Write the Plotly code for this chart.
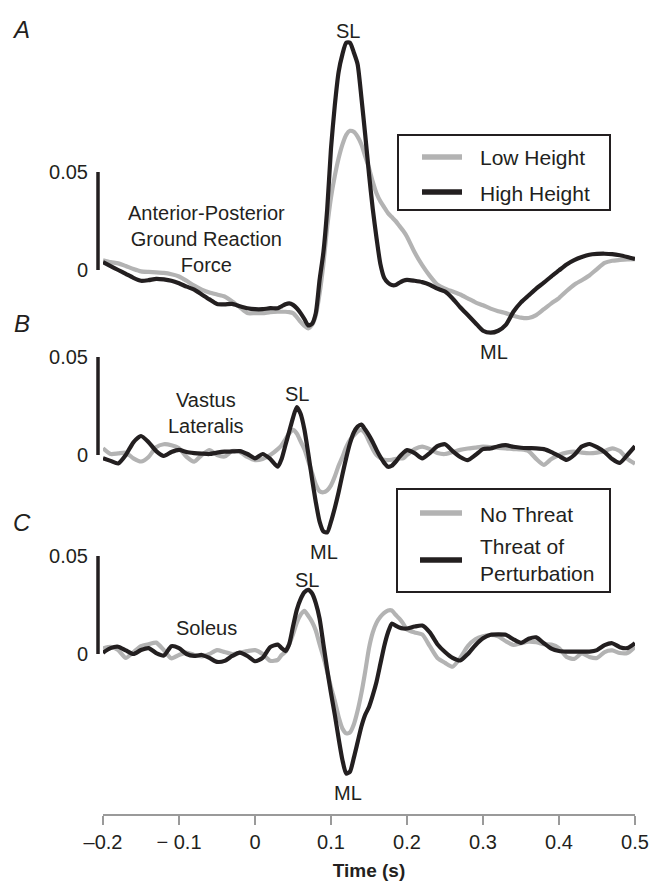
import plotly.graph_objects as go

# ---------------- data ----------------
time_s = [
    -0.20, -0.19, -0.18, -0.17, -0.16, -0.15, -0.14, -0.13, -0.12, -0.11, -0.10, -0.09,
    -0.08, -0.07, -0.06, -0.05, -0.04, -0.03, -0.02, -0.01, 0.00, 0.01, 0.02, 0.03,
    0.035, 0.04, 0.045, 0.05, 0.055, 0.06, 0.065, 0.07, 0.075, 0.08,
    0.085, 0.09, 0.095, 0.10, 0.105, 0.11, 0.115, 0.12, 0.125, 0.13,
    0.135, 0.14, 0.145, 0.15, 0.155, 0.16, 0.165, 0.17, 0.175, 0.18,
    0.185, 0.19, 0.195, 0.20,
    0.21, 0.22, 0.23, 0.24, 0.25, 0.26, 0.27, 0.28, 0.29, 0.30,
    0.31, 0.32, 0.33, 0.34, 0.35, 0.36, 0.37, 0.38, 0.39, 0.40,
    0.41, 0.42, 0.43, 0.44, 0.45, 0.46, 0.47, 0.48, 0.49, 0.50,
]

# Panel A: anterior-posterior ground reaction force
ap_low_height = [
    0.005, 0.004, 0.0034, 0.002, 0.0005, -0.0007, -0.001, -0.0012, -0.0015, -0.0022, -0.0033, -0.0055,
    -0.008, -0.010, -0.0115, -0.0125, -0.0135, -0.016, -0.019, -0.022, -0.022, -0.022, -0.0215, -0.0213,
    -0.0213, -0.0213, -0.0215, -0.022, -0.024, -0.0265, -0.0285, -0.0298, -0.028, -0.023,
    -0.012, 0.003, 0.022, 0.037, 0.048, 0.057, 0.064, 0.069, 0.071, 0.0705,
    0.068, 0.064, 0.058, 0.052, 0.045, 0.039, 0.035, 0.032, 0.029, 0.027,
    0.025, 0.0225, 0.020, 0.017,
    0.009, 0.0025, -0.003, -0.0075, -0.0095, -0.011, -0.0125, -0.0145, -0.0165, -0.018,
    -0.0197, -0.021, -0.022, -0.0233, -0.0243, -0.0245, -0.023, -0.020, -0.017, -0.0143,
    -0.0107, -0.0075, -0.0052, -0.0028, 0.0005, 0.0036, 0.0047, 0.0051, 0.0054, 0.0055,
]
ap_high_height = [
    0.004, 0.002, 0.000, -0.002, -0.004, -0.0055, -0.0052, -0.0045, -0.0048, -0.0055, -0.0068, -0.0085,
    -0.010, -0.0125, -0.015, -0.0173, -0.0175, -0.0173, -0.0185, -0.0195, -0.020, -0.020, -0.0195, -0.0195,
    -0.0185, -0.0175, -0.017, -0.0178, -0.0195, -0.022, -0.025, -0.0283, -0.0275, -0.022,
    -0.005, 0.009, 0.031, 0.062, 0.084, 0.101, 0.110, 0.116, 0.116, 0.111,
    0.105, 0.088, 0.069, 0.049, 0.031, 0.016, 0.003, -0.004, -0.0065, -0.0077,
    -0.0077, -0.0065, -0.0055, -0.005,
    -0.0055, -0.0062, -0.0075, -0.0095, -0.011, -0.0145, -0.019, -0.023, -0.027, -0.031,
    -0.032, -0.031, -0.028, -0.0213, -0.0165, -0.013, -0.0095, -0.0065, -0.0032, -0.0002,
    0.0028, 0.005, 0.0066, 0.0078, 0.0082, 0.0083, 0.0081, 0.0075, 0.0066, 0.0056,
]

# Panel B: vastus lateralis
vl_no_threat = [
    0.0034, 0.0005, 0.0008, 0.0012, -0.0017, -0.0033, -0.001, 0.004, 0.0055, 0.005, 0.0035, -0.001,
    -0.0034, 0.000, 0.0025, 0.000, -0.0008, 0.002, 0.0015, -0.001, -0.0026, -0.002, 0.000, 0.003,
    0.005, 0.008, 0.011, 0.0128, 0.011, 0.007, 0.003, -0.003, -0.009, -0.015,
    -0.0185, -0.019, -0.018, -0.0155, -0.011, -0.0055, -0.001, 0.004, 0.0077, 0.010,
    0.012, 0.0128, 0.011, 0.007, 0.003, 0.000, -0.0015, -0.0025, -0.0026, -0.0024,
    -0.002, -0.0018, -0.0017, 0.000,
    0.003, 0.0043, 0.003, 0.001, 0.0005, 0.0015, 0.0026, 0.0033, 0.0038, 0.0043,
    0.004, 0.0036, 0.0034, 0.003, 0.0028, 0.002, -0.002, -0.005, -0.002, 0.000,
    0.0012, 0.0017, 0.0012, 0.0009, 0.0012, 0.002, 0.0034, 0.002, -0.002, -0.0045,
]
vl_threat = [
    -0.0017, -0.003, -0.0043, 0.000, 0.0065, 0.0097, 0.0065, 0.002, -0.0005, 0.0015, 0.0026, 0.0015,
    0.001, 0.0007, 0.0005, 0.0012, 0.0017, 0.0018, 0.002, 0.0005, -0.0017, 0.0005, -0.002, -0.006,
    -0.002, 0.005, 0.012, 0.019, 0.0245, 0.021, 0.013, 0.001, -0.012, -0.024,
    -0.034, -0.039, -0.0395, -0.034, -0.027, -0.019, -0.010, -0.0015, 0.006, 0.0115,
    0.0145, 0.0155, 0.013, 0.010, 0.0065, 0.0025, -0.001, -0.004, -0.006, -0.0055,
    -0.0035, -0.001, 0.001, 0.0025,
    0.001, -0.0017, 0.001, 0.0045, 0.0055, 0.002, -0.001, -0.0026, 0.000, 0.003,
    0.0033, 0.0045, 0.005, 0.0042, 0.0037, 0.0035, 0.0034, 0.003, 0.0015, -0.0005,
    -0.0025, 0.000, 0.0043, 0.0056, 0.004, 0.0015, -0.002, -0.004, 0.000, 0.0045,
]

# Panel C: soleus
sol_no_threat = [
    0.0029, 0.0037, 0.002, -0.002, 0.001, 0.004, 0.005, 0.0058, 0.002, -0.0022, -0.0005, 0.0007,
    -0.0005, -0.0012, 0.000, 0.002, 0.001, 0.000, 0.0007, 0.0015, 0.002, 0.000, -0.0035, -0.003,
    -0.0005, 0.001, 0.005, 0.010, 0.016, 0.020, 0.022, 0.0195, 0.0165, 0.012,
    0.005, -0.0015, -0.009, -0.017, -0.024, -0.032, -0.038, -0.0405, -0.040, -0.036,
    -0.029, -0.020, -0.009, 0.003, 0.011, 0.016, 0.019, 0.021, 0.0222, 0.0222,
    0.020, 0.018, 0.0155, 0.0125,
    0.011, 0.010, 0.004, -0.002, -0.0045, -0.0065, -0.002, 0.004, 0.0075, 0.009,
    0.0097, 0.009, 0.0065, 0.0046, 0.0055, 0.0063, 0.006, 0.005, 0.0048, 0.003,
    -0.0015, -0.0025, 0.0003, -0.0015, -0.002, 0.001, 0.0018, 0.0005, 0.0005, 0.0037,
]
sol_threat = [
    0.0007, 0.003, 0.0037, 0.0018, 0.000, 0.002, 0.003, 0.0005, -0.0008, 0.004, 0.003, 0.000,
    -0.001, -0.0005, -0.002, -0.004, -0.0035, -0.001, 0.0007, -0.001, -0.0037, -0.002, 0.0035, 0.0048,
    0.003, 0.0015, 0.005, 0.014, 0.0225, 0.028, 0.0315, 0.0327, 0.031, 0.026,
    0.018, 0.005, -0.008, -0.020, -0.031, -0.043, -0.054, -0.061, -0.060, -0.053,
    -0.045, -0.037, -0.031, -0.027, -0.021, -0.014, -0.005, 0.004, 0.011, 0.0155,
    0.0145, 0.0135, 0.013, 0.013,
    0.014, 0.0145, 0.011, 0.005, 0.001, -0.002, -0.0033, 0.000, 0.0045, 0.008,
    0.0098, 0.010, 0.0098, 0.0075, 0.0057, 0.0078, 0.0085, 0.0055, 0.0027, 0.0015,
    0.0012, 0.0012, 0.0012, 0.0012, 0.002, 0.0045, 0.0055, 0.0035, 0.003, 0.0055,
]

x_tick_vals = [-0.2, -0.1, 0, 0.1, 0.2, 0.3, 0.4, 0.5]
x_tick_text = ["\u20130.2", "\u2212 0.1", "0", "0.1", "0.2", "0.3", "0.4", "0.5"]
scale_vals = [0, 0.05]
scale_text = ["0", "0.05"]

for s in (ap_low_height, ap_high_height, vl_no_threat, vl_threat, sol_no_threat, sol_threat):
    assert len(s) == len(time_s), len(s)

# ---------------- layout geometry (pixels) ----------------
W, H = 651, 881
INK = "#231f20"
GRAY = "#b3b3b3"
AXIS_GRAY = "#9a9a9a"
FONT = "Liberation Sans, Arial, Helvetica, sans-serif"

X_LEFT, X_RIGHT = 103, 635      # plot area in px
AXIS_Y = 815                    # x-axis line
BAR_X = 98                      # scale bar position
PX_PER_UNIT = 1960.0            # vertical scale shared by all panels
ZERO_A, ZERO_B, ZERO_C = 270, 455, 654


def px(x):
    return x / W


def py(y):
    return 1 - y / H


def yrange(zero_px):
    return [-(H - zero_px) / PX_PER_UNIT, zero_px / PX_PER_UNIT]


fig = go.Figure()
line_kw = dict(shape="spline", smoothing=0.6)
LW = 4.2

fig.add_trace(go.Scatter(x=time_s, y=ap_low_height, mode="lines", name="Low Height",
                         line=dict(color=GRAY, width=LW, **line_kw), xaxis="x", yaxis="y"))
fig.add_trace(go.Scatter(x=time_s, y=ap_high_height, mode="lines", name="High Height",
                         line=dict(color=INK, width=LW, **line_kw), xaxis="x", yaxis="y"))
fig.add_trace(go.Scatter(x=time_s, y=vl_no_threat, mode="lines", name="No Threat",
                         line=dict(color=GRAY, width=LW, **line_kw), xaxis="x", yaxis="y2"))
fig.add_trace(go.Scatter(x=time_s, y=vl_threat, mode="lines", name="Threat of Perturbation",
                         line=dict(color=INK, width=LW, **line_kw), xaxis="x", yaxis="y2"))
fig.add_trace(go.Scatter(x=time_s, y=sol_no_threat, mode="lines", name="No Threat",
                         line=dict(color=GRAY, width=LW, **line_kw), xaxis="x", yaxis="y3"))
fig.add_trace(go.Scatter(x=time_s, y=sol_threat, mode="lines", name="Threat of Perturbation",
                         line=dict(color=INK, width=LW, **line_kw), xaxis="x", yaxis="y3"))

yax_common = dict(
    domain=[0, 1], anchor="free", position=px(BAR_X), side="left",
    automargin=False,
    showline=False, showgrid=False, zeroline=False,
    tickvals=scale_vals, ticktext=scale_text,
    ticks="outside", ticklen=6, tickcolor="rgba(0,0,0,0)",
    tickfont=dict(size=20, color=INK, family=FONT),
)

fig.update_layout(
    width=W, height=H,
    margin=dict(l=0, r=0, t=0, b=0, autoexpand=False),
    paper_bgcolor="white", plot_bgcolor="white",
    showlegend=False,
    font=dict(family=FONT, color=INK, size=20),
    xaxis=dict(
        domain=[px(X_LEFT), px(X_RIGHT)], range=[-0.2, 0.5],
        anchor="free", position=py(AXIS_Y), automargin=False,
        showline=True, linecolor=AXIS_GRAY, linewidth=2,
        ticks="outside", ticklen=9, tickwidth=2, tickcolor=AXIS_GRAY,
        tickvals=x_tick_vals, ticktext=x_tick_text,
        tickfont=dict(size=20, color=INK, family=FONT),
        showgrid=False, zeroline=False,
        title=dict(text="<b>Time (s)</b>", font=dict(size=19, color=INK, family=FONT), standoff=11),
    ),
    yaxis=dict(range=yrange(ZERO_A), **yax_common),
    yaxis2=dict(range=yrange(ZERO_B), overlaying="y", **yax_common),
    yaxis3=dict(range=yrange(ZERO_C), overlaying="y", **yax_common),
)

# scale bars (0 to 0.05 in each panel's units)
shapes = []
for yref in ("y", "y2", "y3"):
    shapes.append(dict(type="line", xref="paper", yref=yref, x0=px(BAR_X), x1=px(BAR_X),
                       y0=scale_vals[0], y1=scale_vals[1], line=dict(color=INK, width=3.5)))


# legend boxes and keys
def legend_box(x0, y0, x1, y1):
    return dict(type="rect", xref="paper", yref="paper", x0=px(x0), x1=px(x1), y0=py(y0), y1=py(y1),
                line=dict(color=INK, width=2), fillcolor="white", layer="above")


def legend_key(x0, x1, y, color):
    return dict(type="line", xref="paper", yref="paper", x0=px(x0), x1=px(x1), y0=py(y), y1=py(y),
                line=dict(color=color, width=5.5), layer="above")


shapes += [
    legend_box(398, 135, 610, 210),
    legend_key(422, 462, 157, GRAY),
    legend_key(422, 462, 192, INK),
    legend_box(397, 489, 610, 592),
    legend_key(420, 462, 513, GRAY),
    legend_key(420, 462, 560, INK),
]
fig.update_layout(shapes=shapes)

annotations = []


def note(text, x, y, size=20, italic=False, xanchor="center", align="center"):
    t = f"<i>{text}</i>" if italic else text
    annotations.append(dict(text=t, x=px(x), y=py(y), xref="paper", yref="paper",
                            xanchor=xanchor, yanchor="middle", align=align, showarrow=False,
                            font=dict(size=size, color=INK, family=FONT)))


# panel letters
note("A", 21, 29, size=24, italic=True)
note("B", 22, 323, size=24, italic=True)
note("C", 22, 522, size=24, italic=True)
# panel titles
note("Anterior-Posterior<br>Ground Reaction<br>Force", 206, 239, size=20)
note("Vastus<br>Lateralis", 206, 413, size=20)
note("Soleus", 206, 628, size=20)
# peak labels
note("SL", 348, 31, size=20)
note("ML", 494, 352, size=20)
note("SL", 297, 394, size=20)
note("ML", 324, 552, size=20)
note("SL", 307, 580, size=20)
note("ML", 348, 793, size=20)
# legend texts
note("Low Height", 478, 158, size=21, xanchor="left", align="left")
note("High Height", 478, 193, size=21, xanchor="left", align="left")
note("No Threat", 478, 514, size=21, xanchor="left", align="left")
note("Threat of<br>Perturbation", 478, 560, size=21, xanchor="left", align="left")

fig.update_layout(annotations=annotations)

# remove the page's default body margin so the 651x881 figure fills the window exactly
fig.write_html(
    "out.html",
    config={"displayModeBar": False},
    post_script="document.body.style.margin='0';document.body.style.overflow='hidden';",
)
